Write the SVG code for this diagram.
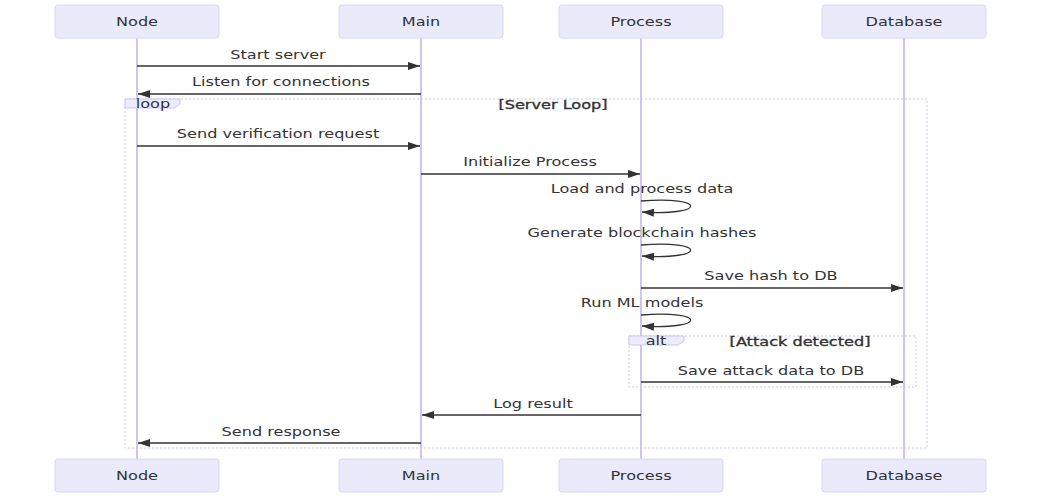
<svg xmlns="http://www.w3.org/2000/svg" width="1041" height="498" viewBox="0 0 1041 498">
  <style>
    .actor { fill: #EAEAFB; stroke: #D6D6F3; stroke-width: 1; }
    .life { stroke: #CFC6F0; stroke-width: 2; }
    .lbl { font-family: "DejaVu Sans", Verdana, sans-serif; font-size: 12.4px; fill: #333; text-anchor: middle; }
    .semi { stroke: #333; stroke-width: 0.35; }
    .msg { stroke: #333; stroke-width: 1.3; fill: none; }
    .frame { fill: none; stroke: #C9C3F2; stroke-width: 1; stroke-dasharray: 2 2; }
    .tab { fill: #ECECFF; stroke: #C9C3F2; stroke-width: 1; }
  </style>
  <defs>
    <marker id="arrowhead" viewBox="0 0 12 10" refX="12" refY="5" markerWidth="12" markerHeight="10" markerUnits="userSpaceOnUse" orient="auto">
      <path d="M0,1 L12,5 L0,9 z" fill="#333"/>
    </marker>
  </defs>
  <rect width="1041" height="498" fill="#ffffff"/>

  <!-- lifelines -->
  <g id="lifelines">
    <line class="life" x1="137" y1="38" x2="137" y2="459"/>
    <line class="life" x1="421" y1="38" x2="421" y2="459"/>
    <line class="life" x1="641" y1="38" x2="641" y2="459"/>
    <line class="life" x1="904" y1="38" x2="904" y2="459"/>
  </g>

  <!-- loop and alt frames -->
  <g id="loop-frame">
    <rect class="frame" x="125" y="99" width="802" height="349"/>
    <path class="tab" d="M125,99 H180 V104 L174,108 H125 Z"/>
    <text class="lbl" transform="matrix(1.3,0,0,1,153,107.5)">loop</text>
    <text class="lbl semi" transform="matrix(1.3,0,0,1,553,108.5)">[Server Loop]</text>
  </g>
  <g id="alt-frame">
    <rect class="frame" x="629" y="336" width="287" height="51"/>
    <path class="tab" d="M629,336 H684 V341 L678,345 H629 Z"/>
    <text class="lbl" transform="matrix(1.3,0,0,1,656,345)">alt</text>
    <text class="lbl semi" transform="matrix(1.3,0,0,1,800,346)">[Attack detected]</text>
  </g>

  <!-- actors -->
  <g id="actor-node-top"><rect class="actor" x="55" y="5" width="164" height="33" rx="3"/><text class="lbl" transform="matrix(1.3,0,0,1,137,26)">Node</text></g>
  <g id="actor-main-top"><rect class="actor" x="339" y="5" width="164" height="33" rx="3"/><text class="lbl" transform="matrix(1.3,0,0,1,421,26)">Main</text></g>
  <g id="actor-process-top"><rect class="actor" x="559" y="5" width="164" height="33" rx="3"/><text class="lbl" transform="matrix(1.3,0,0,1,641,26)">Process</text></g>
  <g id="actor-database-top"><rect class="actor" x="822" y="5" width="164" height="33" rx="3"/><text class="lbl" transform="matrix(1.3,0,0,1,904,26)">Database</text></g>
  <g id="actor-node-bottom"><rect class="actor" x="55" y="459" width="164" height="33" rx="3"/><text class="lbl" transform="matrix(1.3,0,0,1,137,480)">Node</text></g>
  <g id="actor-main-bottom"><rect class="actor" x="339" y="459" width="164" height="33" rx="3"/><text class="lbl" transform="matrix(1.3,0,0,1,421,480)">Main</text></g>
  <g id="actor-process-bottom"><rect class="actor" x="559" y="459" width="164" height="33" rx="3"/><text class="lbl" transform="matrix(1.3,0,0,1,641,480)">Process</text></g>
  <g id="actor-database-bottom"><rect class="actor" x="822" y="459" width="164" height="33" rx="3"/><text class="lbl" transform="matrix(1.3,0,0,1,904,480)">Database</text></g>

  <!-- messages -->
  <g id="connectors">
    <line class="msg" x1="137" y1="66" x2="420" y2="66" marker-end="url(#arrowhead)"/>
    <line class="msg" x1="421" y1="94" x2="138" y2="94" marker-end="url(#arrowhead)"/>
    <line class="msg" x1="137" y1="146" x2="420" y2="146" marker-end="url(#arrowhead)"/>
    <line class="msg" x1="421" y1="174" x2="640" y2="174" marker-end="url(#arrowhead)"/>
    <path class="msg" d="M641,201 C707,196 707,216 642,212" marker-end="url(#arrowhead)"/>
    <path class="msg" d="M641,245 C707,240 707,260 642,256" marker-end="url(#arrowhead)"/>
    <line class="msg" x1="641" y1="288" x2="903" y2="288" marker-end="url(#arrowhead)"/>
    <path class="msg" d="M641,315 C707,310 707,330 642,326" marker-end="url(#arrowhead)"/>
    <line class="msg" x1="641" y1="382" x2="903" y2="382" marker-end="url(#arrowhead)"/>
    <line class="msg" x1="641" y1="415" x2="422" y2="415" marker-end="url(#arrowhead)"/>
    <line class="msg" x1="421" y1="443" x2="138" y2="443" marker-end="url(#arrowhead)"/>
  </g>

  <!-- message labels -->
  <g id="message-labels">
    <text class="lbl" transform="matrix(1.3,0,0,1,278,58.5)">Start server</text>
    <text class="lbl" transform="matrix(1.3,0,0,1,281,86)">Listen for connections</text>
    <text class="lbl" transform="matrix(1.3,0,0,1,278,138)">Send verification request</text>
    <text class="lbl" transform="matrix(1.3,0,0,1,530,165.5)">Initialize Process</text>
    <text class="lbl" transform="matrix(1.3,0,0,1,642,193)">Load and process data</text>
    <text class="lbl" transform="matrix(1.3,0,0,1,642,236.5)">Generate blockchain hashes</text>
    <text class="lbl" transform="matrix(1.3,0,0,1,771,279.5)">Save hash to DB</text>
    <text class="lbl" transform="matrix(1.3,0,0,1,642,307)">Run ML models</text>
    <text class="lbl" transform="matrix(1.3,0,0,1,771,374.5)">Save attack data to DB</text>
    <text class="lbl" transform="matrix(1.3,0,0,1,533,407.5)">Log result</text>
    <text class="lbl" transform="matrix(1.3,0,0,1,281,435.5)">Send response</text>
  </g>
</svg>
